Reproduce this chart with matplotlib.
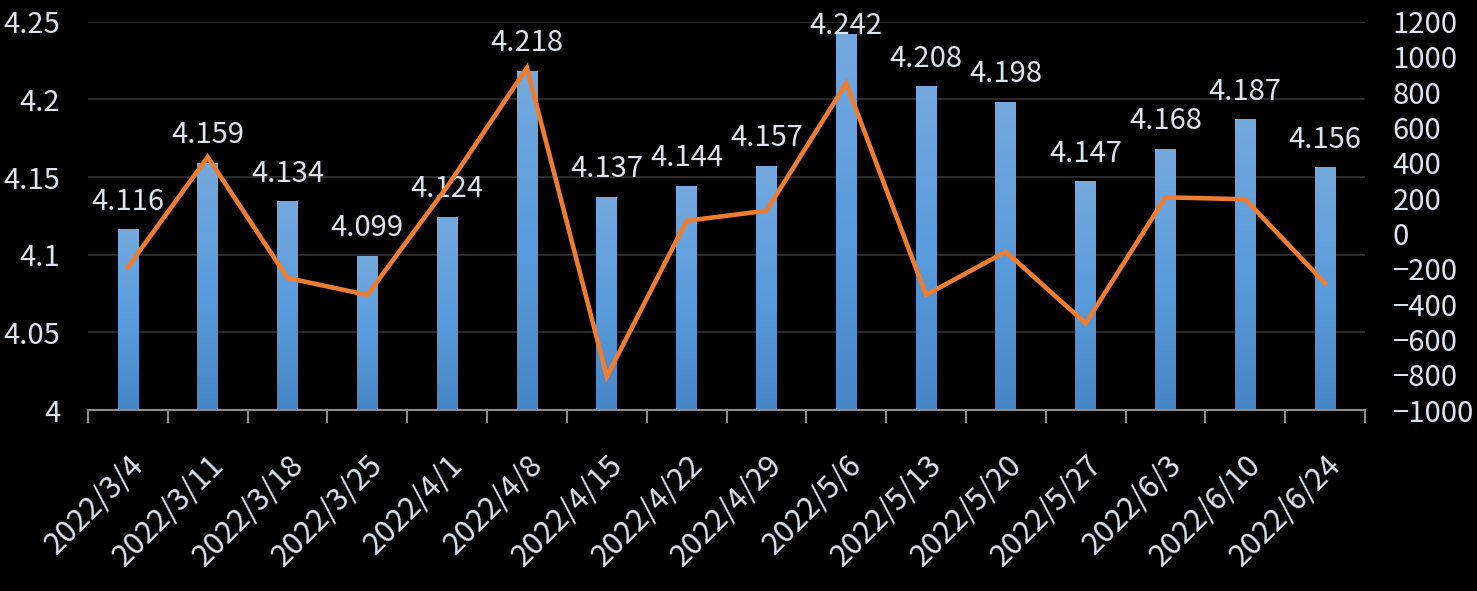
import numpy as np
import matplotlib
matplotlib.use("Agg")
import matplotlib.pyplot as plt
from matplotlib.colors import LinearSegmentedColormap

dates = ["2022/3/4", "2022/3/11", "2022/3/18", "2022/3/25", "2022/4/1", "2022/4/8",
         "2022/4/15", "2022/4/22", "2022/4/29", "2022/5/6", "2022/5/13", "2022/5/20",
         "2022/5/27", "2022/6/3", "2022/6/10", "2022/6/24"]
bar_vals = [4.116, 4.159, 4.134, 4.099, 4.124, 4.218, 4.137, 4.144, 4.157, 4.242,
            4.208, 4.198, 4.147, 4.168, 4.187, 4.156]
line_vals = [-190, 433, -252, -348, 265, 938, -811, 72, 129, 851,
             -348, -103, -509, 205, 194, -282]

plt.rcParams['font.family'] = ['Noto Sans CJK TC', 'DejaVu Sans']
txt = '#DCE4F0'
fs = 21

fig = plt.figure(figsize=(14.77, 5.91), dpi=100, facecolor='black')
ax = fig.add_axes([88 / 1477, 181 / 591, 1277 / 1477, 388.3 / 591])
ax.set_facecolor('black')
x = np.arange(len(dates))

ax.set_yticks([4, 4.05, 4.1, 4.15, 4.2, 4.25], ['4', '4.05', '4.1', '4.15', '4.2', '4.25'])
ax.grid(axis='y', color='#2a2a2a', lw=1.5)
ax.set_axisbelow(True)

# gradient bars
cmap = LinearSegmentedColormap.from_list('bl', ['#4786C6', '#5A9CDD', '#74A9DD'])
bars = ax.bar(x, np.array(bar_vals) - 4, bottom=4, width=0.26, color='none', zorder=2)
grad = np.linspace(0, 1, 256).reshape(-1, 1)
for b in bars:
    x0, y0 = b.get_x(), b.get_y()
    ax.imshow(grad, extent=[x0, x0 + b.get_width(), y0, y0 + b.get_height()],
              origin='lower', aspect='auto', cmap=cmap, zorder=2)
ax.set_xlim(-0.5, len(dates) - 0.5)
ax.set_ylim(4, 4.25)

# data labels sit above the bars, but are kept inside the top of the plot
for xi, v in zip(x, bar_vals):
    ax.text(xi, min(v + 0.0129, 4.242), f'{v:.3f}', ha='center', va='baseline',
            color=txt, fontsize=fs, zorder=5, clip_on=False)

for s in ['top', 'left', 'right']:
    ax.spines[s].set_visible(False)
ax.spines['bottom'].set_color('#8c8c8c')
ax.spines['bottom'].set_linewidth(1.5)
ax.spines['bottom'].set_zorder(6)
ax.tick_params(axis='y', length=0, pad=20, labelsize=fs, labelcolor=txt)
ax.set_xticks(x, dates)
ax.set_xticks(np.arange(-0.5, len(dates)), minor=True)
ax.tick_params(axis='x', which='major', length=0, pad=28, labelsize=22, labelcolor=txt)
ax.tick_params(axis='x', which='minor', length=9, width=1.5, color='#8c8c8c')
for lab in ax.get_xticklabels():
    lab.set_rotation(45)
    lab.set_ha('right')
    lab.set_va('top')
    lab.set_rotation_mode('anchor')

ax2 = ax.twinx()
ax2.plot(x, line_vals, color='#ED7D31', lw=3.3, zorder=4, solid_joinstyle='miter')
ax2.set_ylim(-1000, 1200)
ax2.set_yticks(np.arange(-1000, 1201, 200))
ax2.tick_params(axis='y', length=0, pad=20, labelsize=fs, labelcolor=txt)
for s in ax2.spines.values():
    s.set_visible(False)

fig.savefig('out.png', dpi=100, facecolor='black')
